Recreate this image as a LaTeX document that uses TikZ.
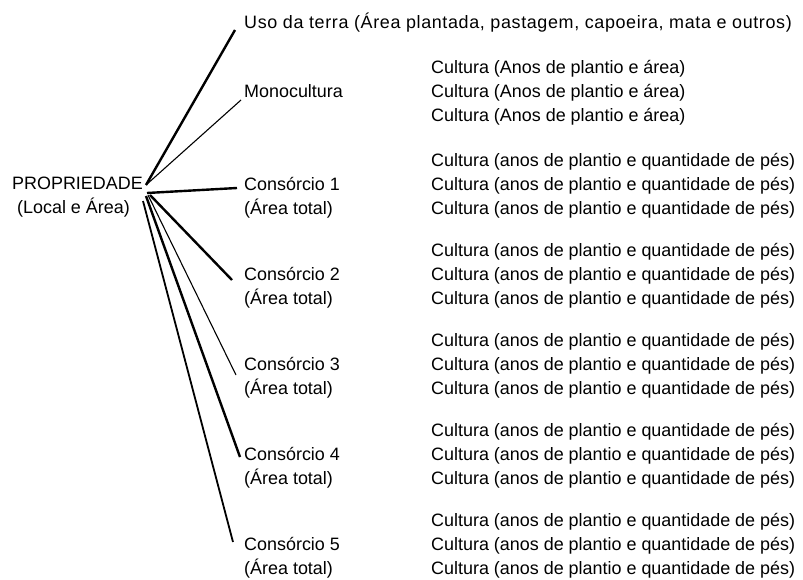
\documentclass[tikz,border=0pt]{standalone}
\usepackage{fontspec}
\setmainfont{Liberation Sans}
\newfontfamily\widesans{Liberation Sans}[LetterSpace=3.5]
\begin{document}
\begin{tikzpicture}[x=1bp,y=-1bp,
  lbl/.style={anchor=base west, inner sep=0pt, font=\fontsize{18}{18}\selectfont},
  widelbl/.style={lbl, font=\widesans\fontsize{18}{18}\selectfont},
  heavy/.style={line width=2.4bp},
  medium/.style={line width=1.8bp},
  light/.style={line width=1.1bp}]
\useasboundingbox (0,0) rectangle (803,580);
% hub labels
\node[lbl] (prop) at (12,189.5) {PROPRIEDADE};
\node[lbl] (propsub) at (17,213.5) {(Local e Área)};
% first level
\node[widelbl] (uso) at (244,28.5) {Uso da terra (Área plantada, pastagem, capoeira, mata e outros)};
\node[lbl] (mono) at (244,97.5) {Monocultura};
\foreach \k/\yy in {a/73.5,b/97.5,c/121.5}
  \node[lbl] (mono-\k) at (431,\yy) {Cultura (Anos de plantio e área)};
\foreach \i/\yy in {1/190.5,2/280.5,3/370.5,4/460.5,5/550.5}{
  \node[lbl] (cons\i) at (244,\yy) {Consórcio \i};
  \node[lbl] (cons\i-area) at (244,\yy+24) {(Área total)};
  \node[lbl] (cons\i-a) at (431,\yy-24) {Cultura (anos de plantio e quantidade de pés)};
  \node[lbl] (cons\i-b) at (431,\yy) {Cultura (anos de plantio e quantidade de pés)};
  \node[lbl] (cons\i-c) at (431,\yy+24) {Cultura (anos de plantio e quantidade de pés)};
}
% connector ends
\coordinate (h-uso) at (146,185);
\coordinate (e-uso) at (235,30);
\coordinate (h-mono) at (146,185);
\coordinate (e-mono) at (241,100);
\coordinate (h-c1) at (147,193);
\coordinate (e-c1) at (237,188);
\coordinate (h-c2) at (150,195);
\coordinate (e-c2) at (232,280);
\coordinate (h-c3) at (148,195);
\coordinate (e-c3) at (236,375);
\coordinate (h-c4) at (146,196);
\coordinate (e-c4) at (240,457);
\coordinate (h-c5) at (143,201);
\coordinate (e-c5) at (233,542);
% connectors
\draw[heavy] (h-uso) -- (e-uso);
\draw[light] (h-mono) -- (e-mono);
\draw[heavy] (h-c1) -- (e-c1);
\draw[heavy] (h-c2) -- (e-c2);
\draw[light] (h-c3) -- (e-c3);
\draw[heavy] (h-c4) -- (e-c4);
\draw[medium] (h-c5) -- (e-c5);
\end{tikzpicture}
\end{document}
